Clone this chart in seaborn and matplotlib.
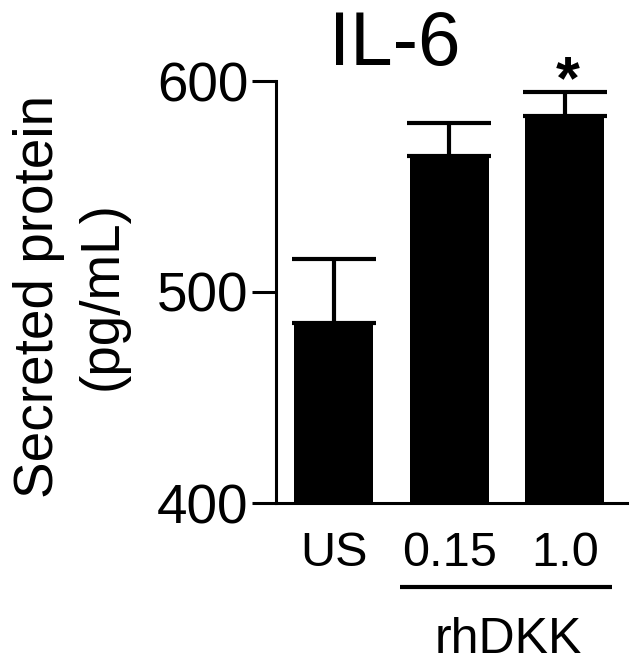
import matplotlib
matplotlib.use("Agg")
import matplotlib.pyplot as plt
import matplotlib.transforms as mtransforms
import seaborn as sns
import pandas as pd

categories = ["US", "0.15", "1.0"]
means = [485.3, 564.6, 583.3]
sems = [30.3, 15.4, 11.6]
y_ticks = [400, 500, 600]
title = "IL-6"
ylabel = "Secreted protein\n(pg/mL)"
group_label = "rhDKK"
significance = ["", "", "*"]

sns.set_theme(style="ticks")
plt.rcParams["font.family"] = ["Liberation Sans", "DejaVu Sans"]
plt.rcParams.update({"text.color": "black", "axes.labelcolor": "black",
                     "xtick.color": "black", "ytick.color": "black",
                     "axes.edgecolor": "black"})

df = pd.DataFrame({"cond": categories, "val": means})

fig = plt.figure(figsize=(6.38, 6.63), dpi=100)
ax = fig.add_axes([276/638, 160/663, (627-276)/638, (503-81)/663])

ax.errorbar(range(len(categories)), means, yerr=[[0]*len(sems), sems],
            fmt="none", ecolor="black", elinewidth=3, capsize=30, capthick=3,
            zorder=0.5)
sns.barplot(data=df, x="cond", y="val", color="black", width=0.684,
            errorbar=None, ax=ax, saturation=1, linewidth=0, zorder=2)

ax.set_ylim(400, 600)
ax.set_xlim(-0.5, 2.54)
ax.set_yticks(y_ticks)
ax.set_yticklabels([str(t) for t in y_ticks], fontsize=39.5)
ax.tick_params(axis="y", length=17, width=2.2, pad=3, color="black")
ax.tick_params(axis="x", length=0, pad=20, labelsize=35)
ax.set_xlabel("")
ax.set_ylabel("")
for s in ["top", "right"]:
    ax.spines[s].set_visible(False)
for s in ["left", "bottom"]:
    ax.spines[s].set_linewidth(2.2)
    ax.spines[s].set_color("black")
    ax.spines[s].set_zorder(3)

for i, s in enumerate(significance):
    if s:
        ax.text(i + 0.03, 592, s, ha="center", va="baseline", fontsize=44,
                fontweight="bold", clip_on=False)

trans = mtransforms.blended_transform_factory(ax.transData, ax.transAxes)
ax.plot([0.576, 2.41], [-0.199, -0.199], color="black", lw=3, transform=trans,
        clip_on=False, solid_capstyle="butt")
ax.text(1.51, -0.325, group_label, transform=trans, ha="center", va="center",
        fontsize=36)

fig.text(395/638, (663-65)/663, title, ha="center", va="baseline", fontsize=55)
fig.text(71/638, (663-296)/663, ylabel, rotation=90, ha="center", va="center",
         multialignment="center", fontsize=39.5, linespacing=1.3)

fig.savefig("out.png", dpi=100, facecolor="white")
